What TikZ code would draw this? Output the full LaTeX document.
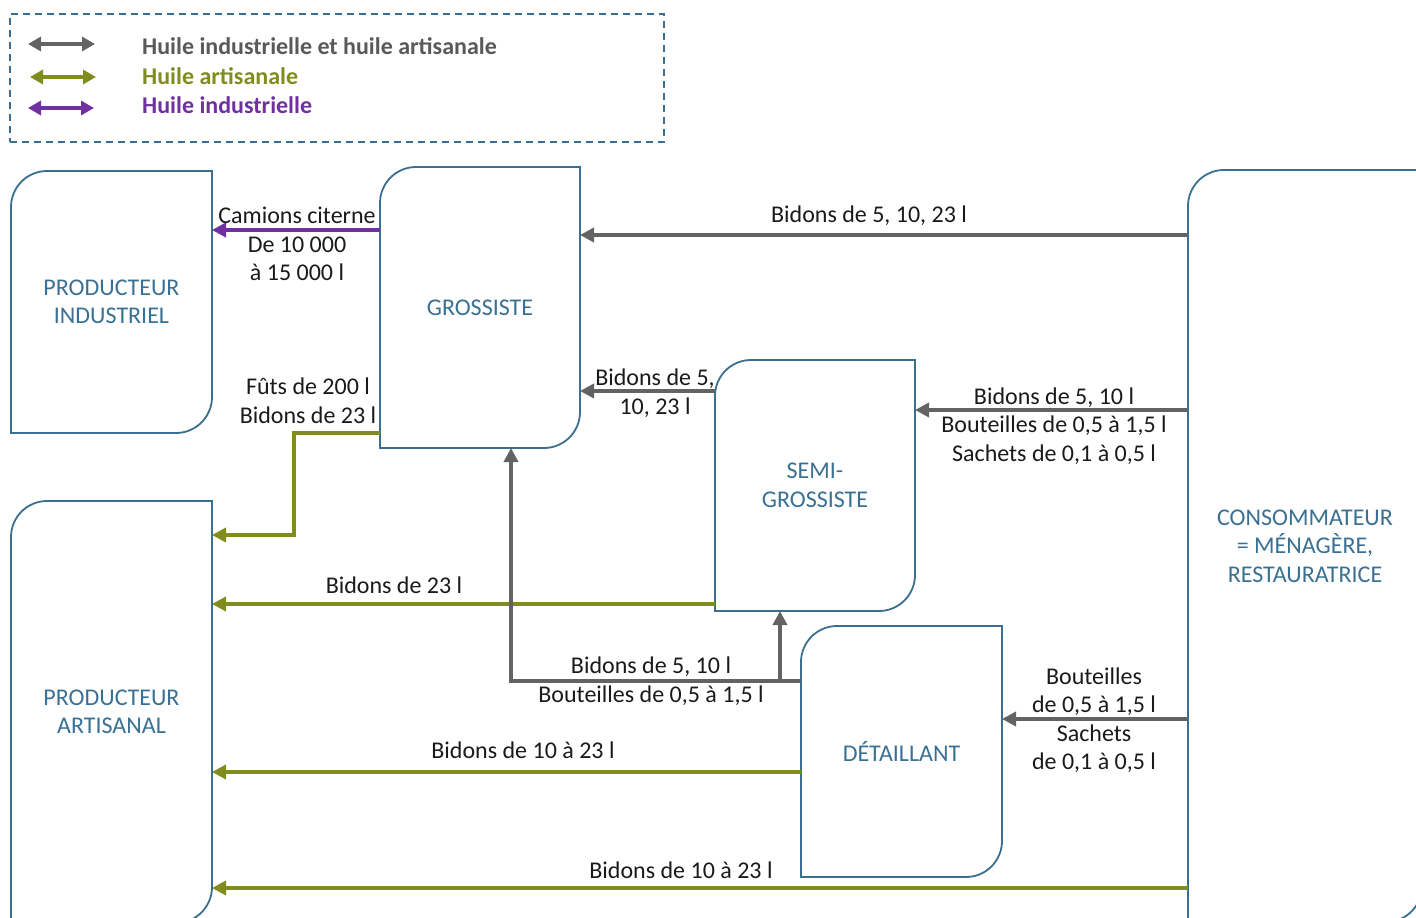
\documentclass[tikz,border=0pt]{standalone}
\usepackage{fontspec}
\setmainfont{Carlito}
\usetikzlibrary{arrows.meta}
\definecolor{boxblue}{HTML}{3A6F8F}
\definecolor{labblue}{HTML}{3A7093}
\definecolor{grayc}{HTML}{636363}
\definecolor{olivec}{HTML}{808C1E}
\definecolor{purplec}{HTML}{7030A0}
\definecolor{leggray}{HTML}{595959}
\definecolor{txt}{HTML}{1A1A1A}
\newcommand{\rbox}[1]{\draw[boxline] (#1.south west) -- ([yshift=-36pt]#1.north west) arc[start angle=180,end angle=90,radius=36pt] -- (#1.north east) -- ([yshift=36pt]#1.south east) arc[start angle=0,end angle=-90,radius=36pt] -- cycle;}
\begin{document}
\begin{tikzpicture}[x=1pt,y=1pt,
  every node/.style={font=\fontsize{24}{28.5}\selectfont},
  boxnode/.style={inner sep=0pt, outer sep=0pt, align=center, text=labblue},
  boxline/.style={draw=boxblue, line width=1.8pt},
  lbl/.style={inner sep=0pt, align=center, text=txt},
  flow/.style={line width=4pt, -{Triangle[length=14pt,width=14pt]}},
  gflow/.style={flow, draw=grayc},
  oflow/.style={flow, draw=olivec},
  pflow/.style={flow, draw=purplec},
  legarrow/.style={line width=4pt, {Triangle[length=13pt,width=14pt]}-{Triangle[length=13pt,width=14pt]}},
  legtext/.style={anchor=west, inner sep=0pt, font=\fontsize{24}{28.5}\selectfont\bfseries}
]
\useasboundingbox (0,0) rectangle (1416,-918);

% legend
\node[draw=boxblue, line width=1.8pt, dash pattern=on 7pt off 5pt, minimum width=654pt, minimum height=128pt, inner sep=0pt] (legend) at (337,-78) {};
\coordinate (g1a) at (28,-44); \coordinate (g1b) at (95,-44);
\coordinate (g2a) at (30,-77); \coordinate (g2b) at (96,-77);
\coordinate (g3a) at (28,-108); \coordinate (g3b) at (94,-108);
\draw[legarrow, draw=grayc, fill=grayc] (g1a) -- (g1b);
\draw[legarrow, draw=olivec, fill=olivec] (g2a) -- (g2b);
\draw[legarrow, draw=purplec, fill=purplec] (g3a) -- (g3b);
\node[legtext, text=leggray] (lt1) at (142,-46) {Huile industrielle et huile artisanale};
\node[legtext, text=olivec] (lt2) at (142,-76) {Huile artisanale};
\node[legtext, text=purplec] (lt3) at (142,-105) {Huile industrielle};

% boxes
\node[boxnode, minimum width=201pt, minimum height=262pt] (pi) at (111.5,-302) {PRODUCTEUR\\INDUSTRIEL};
\node[boxnode, minimum width=200pt, minimum height=281pt] (gro) at (480,-307.5) {GROSSISTE};
\node[boxnode, minimum width=200pt, minimum height=251pt] (semi) at (815,-485.5) {SEMI-\\GROSSISTE};
\node[boxnode, minimum width=201pt, minimum height=251pt] (det) at (901.5,-751.5) {DÉTAILLANT};
\node[boxnode, minimum width=234pt, minimum height=752pt] (cons) at (1305,-546) {CONSOMMATEUR\\= MÉNAGÈRE,\\RESTAURATRICE};
\node[boxnode, minimum width=201pt, minimum height=422pt] (pa) at (111.5,-712) {PRODUCTEUR\\ARTISANAL};
\rbox{pi}
\rbox{gro}
\rbox{semi}
\rbox{det}
\rbox{cons}
\rbox{pa}

% connectors
\draw[pflow] (gro.west |- 0,-230) -- (pi.east |- 0,-230);
\draw[oflow] (gro.west |- 0,-433) -| (294,-484) |- (pa.east |- 0,-535);
\draw[gflow] (cons.west |- 0,-235) -- (gro.east |- 0,-235);
\draw[gflow] (semi.west |- 0,-391) -- (gro.east |- 0,-391);
\draw[gflow] (cons.west |- 0,-410) -- (semi.east |- 0,-410);
\draw[oflow] (semi.west |- 0,-604) -- (pa.east |- 0,-604);
\draw[gflow] (det.west |- 0,-681) -| (gro.south -| 511,0);
\coordinate (br) at (780,-681);
\draw[gflow] (br) -- (semi.south -| br);
\draw[gflow] (cons.west |- 0,-719) -- (det.east |- 0,-719);
\draw[oflow] (det.west |- 0,-772) -- (pa.east |- 0,-772);
\draw[oflow] (cons.west |- 0,-888) -- (pa.east |- 0,-888);

% labels
\node[lbl] (l1) at (297,-244) {Camions citerne\\De 10~000\\à 15~000 l};
\node[lbl] (l2) at (308,-401) {Fûts de 200 l\\Bidons de 23 l};
\node[lbl] (l3) at (869,-216) {Bidons de 5, 10, 23 l};
\node[lbl] (l4) at (655,-393) {Bidons de 5,\\10, 23 l};
\node[lbl] (l5) at (1054,-426) {Bidons de 5, 10 l\\Bouteilles de 0,5 à 1,5 l\\Sachets de 0,1 à 0,5 l};
\node[lbl] (l6) at (394,-585) {Bidons de 23 l};
\node[lbl] (l7) at (651,-681) {Bidons de 5, 10 l\\Bouteilles de 0,5 à 1,5 l};
\node[lbl] (l8) at (1094,-720) {Bouteilles\\de 0,5 à 1,5 l\\Sachets\\de 0,1 à 0,5 l};
\node[lbl] (l9) at (523,-750) {Bidons de 10 à 23 l};
\node[lbl] (l10) at (681,-870) {Bidons de 10 à 23 l};
\end{tikzpicture}
\end{document}
